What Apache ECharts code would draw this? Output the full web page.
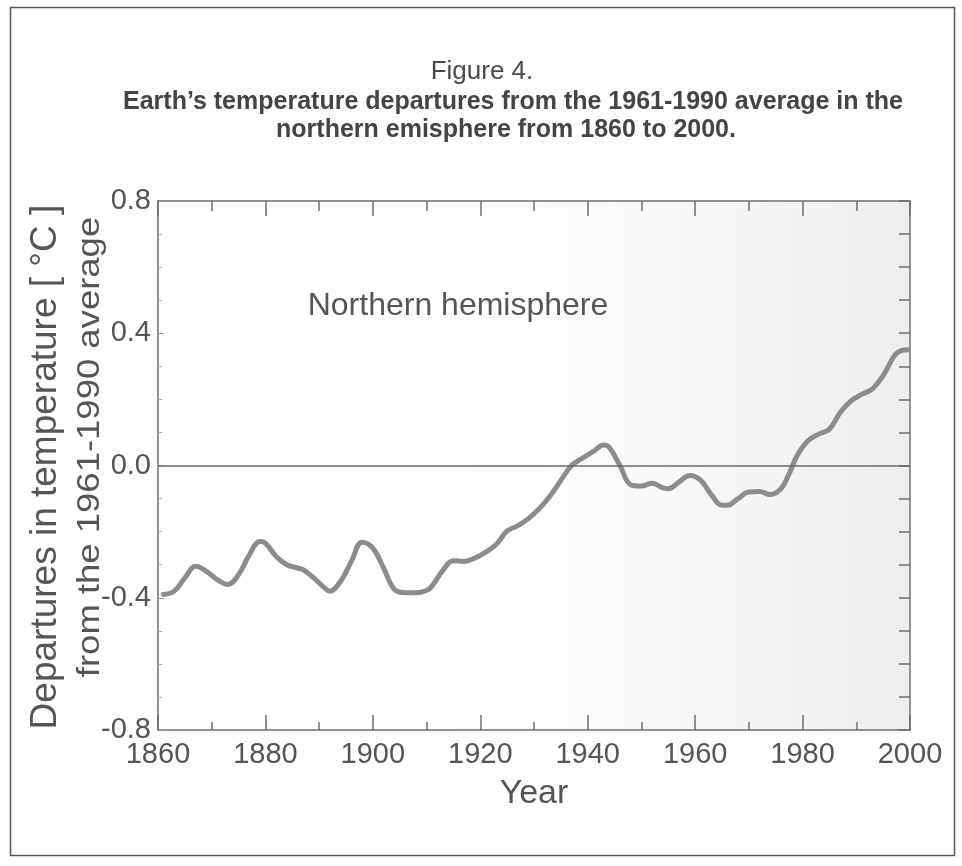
<!DOCTYPE html>
<html>
<head>
<meta charset="utf-8">
<script src="https://cdn.jsdelivr.net/npm/echarts@6/dist/echarts.min.js"></script>
<style>
html,body{margin:0;padding:0;background:#ffffff;}
#chart{width:962px;height:866px;}
</style>
</head>
<body>
<div id="chart"></div>
<script>
const years = [1861,1863,1865,1867,1869,1871,1873,1875,1877,1879,1880,1882,1884,1886,1887,1889,1891,1892,1894,1896,1898,1900,1902,1904,1906,1908,1910,1911,1913,1915,1917,1919,1921,1923,1925,1927,1929,1931,1933,1935,1937,1939,1941,1943,1944,1946,1948,1950,1952,1954,1955,1957,1959,1961,1963,1965,1966,1968,1970,1972,1974,1976,1977.5,1979,1981,1983,1985,1987,1989,1991,1993,1995,1997,1998,1999.5];
const departures = [-0.39,-0.38,-0.34,-0.305,-0.32,-0.345,-0.36,-0.33,-0.27,-0.23,-0.235,-0.275,-0.30,-0.31,-0.315,-0.34,-0.37,-0.38,-0.35,-0.29,-0.232,-0.25,-0.31,-0.375,-0.385,-0.385,-0.378,-0.365,-0.318,-0.288,-0.29,-0.28,-0.262,-0.238,-0.198,-0.182,-0.16,-0.13,-0.092,-0.045,0.0,0.022,0.042,0.062,0.055,0.0,-0.058,-0.062,-0.054,-0.068,-0.07,-0.05,-0.03,-0.044,-0.088,-0.12,-0.12,-0.10,-0.08,-0.079,-0.088,-0.07,-0.025,0.03,0.075,0.095,0.11,0.16,0.195,0.215,0.232,0.272,0.33,0.345,0.35];
const xTickLabels = [1860,1880,1900,1920,1940,1960,1980,2000];
const yTickLabels = [-0.8,-0.4,0.0,0.4,0.8];

const titleLine1 = 'Figure 4.';
const titleLine2 = 'Earth\u2019s temperature departures from the 1961-1990 average in the';
const titleLine3 = 'northern emisphere from 1860 to 2000.';
const yName1 = 'Departures in temperature [ \u00B0C ]';
const yName2 = 'from the 1961-1990 average';
const xName = 'Year';
const seriesLabel = 'Northern hemisphere';

const chart = echarts.init(document.getElementById('chart'), null, {renderer:'canvas'});
const font = '"Liberation Sans", Arial, Helvetica, sans-serif';
const txt = '#555555';
const axisCol = '#6e6e6e';

const option = {
  backgroundColor: '#ffffff',
  animation: false,
  textStyle: {fontFamily: font},
  grid: {
    left: 158, right: 52, top: 201, bottom: 136,
    show: true, borderWidth: 0,
    backgroundColor: {
      type: 'linear', x: 0, y: 0, x2: 1, y2: 0,
      colorStops: [
        {offset: 0, color: '#ffffff'},
        {offset: 0.5, color: '#fefefe'},
        {offset: 0.75, color: '#f6f6f6'},
        {offset: 1, color: '#eeeeee'}
      ]
    }
  },
  graphic: [
    {type:'rect', shape:{x:10.5, y:7.5, width:944, height:848}, style:{fill:'none', stroke:'#555', lineWidth:1.5}, silent:true},
    {type:'text', x:482, y:72, style:{text:titleLine1, font:'26px '+font, fill:'#4a4a4a', textAlign:'center', textVerticalAlign:'middle'}},
    {type:'text', x:513, y:102, style:{text:titleLine2, font:'bold 25px '+font, fill:'#444', textAlign:'center', textVerticalAlign:'middle'}},
    {type:'text', x:506, y:130, style:{text:titleLine3, font:'bold 25px '+font, fill:'#444', textAlign:'center', textVerticalAlign:'middle'}},
    {type:'text', x:46, y:467, rotation:Math.PI/2, style:{text:yName1, font:'37px '+font, fill:txt, textAlign:'center', textVerticalAlign:'middle'}},
    {type:'text', x:90, y:447, rotation:Math.PI/2, scaleX:1.14, style:{text:yName2, font:'32px '+font, fill:txt, textAlign:'center', textVerticalAlign:'middle'}},
    {type:'text', x:458, y:306, style:{text:seriesLabel, font:'32px '+font, fill:'#555', textAlign:'center', textVerticalAlign:'middle'}}
  ],
  xAxis: [
    {
      type:'value', min:1860, max:2000, interval:20, position:'bottom',
      name:xName, nameLocation:'middle', nameGap:47,
      nameTextStyle:{fontSize:34, color:txt, fontFamily:font},
      axisLine:{show:true, onZero:false, lineStyle:{color:axisCol, width:1.5}},
      axisTick:{show:true, inside:true, length:15, lineStyle:{color:axisCol, width:1.5}},
      minorTick:{show:true, splitNumber:2, length:8, lineStyle:{color:axisCol, width:1.5}},
      axisLabel:{fontSize:29, color:txt, margin:10, formatter:(v)=> xTickLabels.includes(v) ? String(v) : ''},
      splitLine:{show:false}
    },
    {
      type:'value', min:1860, max:2000, interval:20, position:'top',
      axisLine:{show:true, onZero:false, lineStyle:{color:axisCol, width:1.5}},
      axisTick:{show:true, inside:true, length:15, lineStyle:{color:axisCol, width:1.5}},
      minorTick:{show:true, splitNumber:2, length:10, lineStyle:{color:axisCol, width:1.5}},
      axisLabel:{show:false}, splitLine:{show:false}
    }
  ],
  yAxis: [
    {
      type:'value', min:-0.8, max:0.8, interval:0.4, position:'left',
      axisLine:{show:true, onZero:false, lineStyle:{color:axisCol, width:1.5}},
      axisTick:{show:true, inside:true, length:6, lineStyle:{color:'#999', width:1}},
      minorTick:{show:true, splitNumber:4, length:4, lineStyle:{color:'#aaa', width:1}},
      axisLabel:{fontSize:29, color:txt, margin:7, formatter:(v)=>{
        const m = yTickLabels.find(t=>Math.abs(t-v)<1e-6); return m===undefined? '' : m.toFixed(1);}},
      splitLine:{show:false}
    },
    {
      type:'value', min:-0.8, max:0.8, interval:0.4, position:'right',
      axisLine:{show:true, onZero:false, lineStyle:{color:axisCol, width:1.5}},
      axisTick:{show:true, inside:true, length:11, lineStyle:{color:axisCol, width:1.5}},
      minorTick:{show:true, splitNumber:4, length:11, lineStyle:{color:axisCol, width:1.5}},
      axisLabel:{show:false}, splitLine:{show:false}
    }
  ],
  series: [
    {
      type:'line', xAxisIndex:0, yAxisIndex:0,
      data: years.map((y,i)=>[y, departures[i]]),
      smooth:0.4, showSymbol:false, symbol:'none',
      lineStyle:{color:'#8c8c8c', width:5, cap:'round', join:'round'},
      markLine:{
        silent:true, symbol:['none','none'], label:{show:false},
        lineStyle:{color:'#6a6a6a', width:1.5, type:'solid'},
        data:[{yAxis:0}]
      },
      z:3
    }
  ]
};
chart.setOption(option);
</script>
</body>
</html>
